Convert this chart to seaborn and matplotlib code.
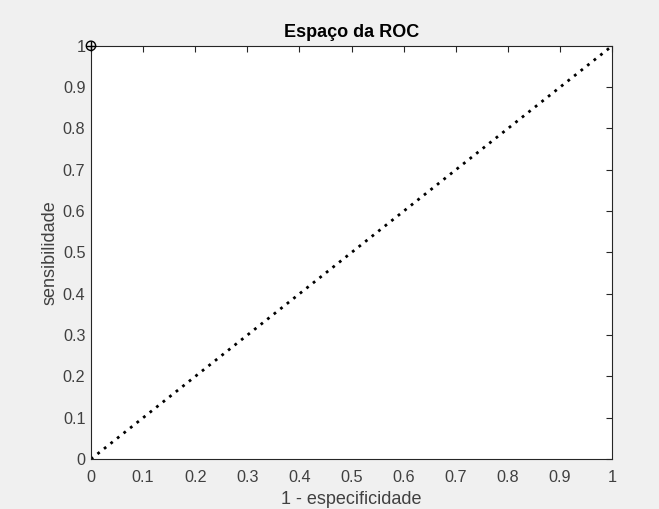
import matplotlib
matplotlib.use("Agg")
import matplotlib.pyplot as plt
import seaborn as sns
import pandas as pd

# data
diag_x = [0, 1]
diag_y = [0, 1]
point_x = [0]
point_y = [1]
ticks = [0, 0.1, 0.2, 0.3, 0.4, 0.5, 0.6, 0.7, 0.8, 0.9, 1]
tick_labels = ["0", "0.1", "0.2", "0.3", "0.4", "0.5", "0.6", "0.7", "0.8", "0.9", "1"]

sns.set_style("white")
plt.rcParams['font.family'] = ['Liberation Sans', 'DejaVu Sans']

fig = plt.figure(figsize=(6.59, 5.09), dpi=100, facecolor="#f0f0f0")
ax = fig.add_axes([0.138, 0.098, 0.791, 0.812])
ax.set_facecolor("white")

sns.lineplot(x=diag_x, y=diag_y, ax=ax, color="black", linestyle=(0, (1, 2)), linewidth=2.0)
sns.scatterplot(x=point_x, y=point_y, ax=ax, marker="o", s=45, facecolor="none",
                edgecolor="black", linewidth=1.0, zorder=5, clip_on=False)
sns.scatterplot(x=point_x, y=point_y, ax=ax, marker="+", s=45, color="black",
                linewidth=1.0, zorder=5, clip_on=False)

ax.set_xlim(0, 1)
ax.set_ylim(0, 1)
ax.set_xticks(ticks)
ax.set_xticklabels(tick_labels)
ax.set_yticks(ticks)
ax.set_yticklabels(tick_labels)

gray = "#262626"
tcol = "#404040"
for s in ax.spines.values():
    s.set_color(gray)
    s.set_linewidth(0.8)
    s.set_visible(True)
ax.tick_params(direction="in", length=4, width=0.8, color=gray, labelcolor=tcol,
               labelsize=11.7, top=True, right=True)
ax.tick_params(axis="x", pad=8)
ax.tick_params(axis="y", pad=4)

ax.set_xlabel("1 - especificidade", fontsize=13, color=tcol, labelpad=4)
ax.set_ylabel("sensibilidade", fontsize=13, color=tcol, labelpad=3)
ax.set_title("Espaço da ROC", fontsize=13, fontweight="bold", color="black", pad=6)

fig.savefig("out.png", dpi=100, facecolor=fig.get_facecolor())
